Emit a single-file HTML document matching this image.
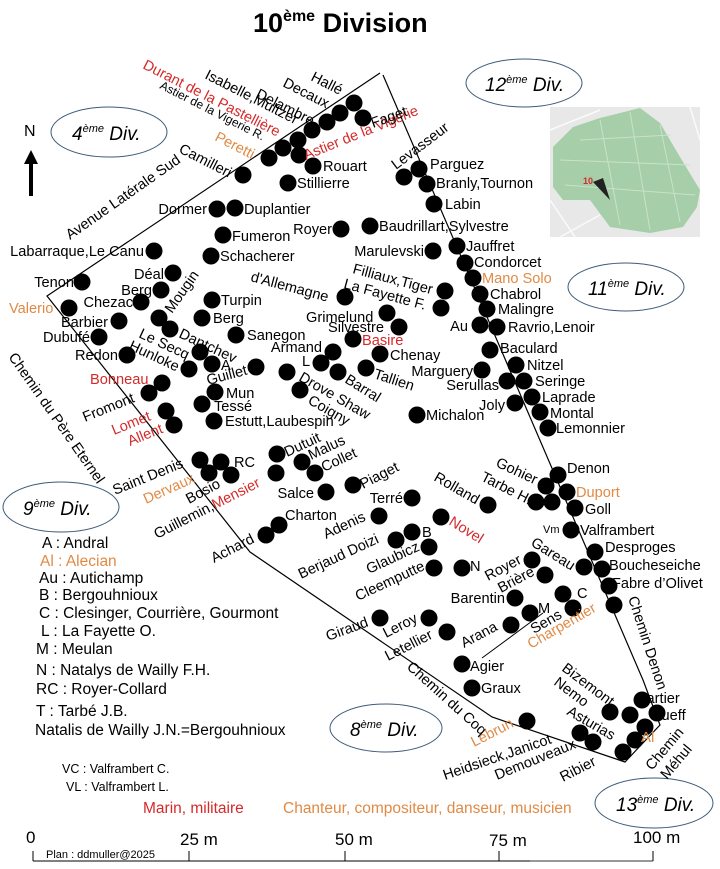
<!DOCTYPE html>
<html><head><meta charset="utf-8"><style>
html,body{margin:0;padding:0;background:#fff;}
svg{display:block;font-family:"Liberation Sans",Arial,sans-serif;}
.t{font-size:14.6px;fill:#000}
.r{font-size:14.6px;fill:#d42a2a}
.o{font-size:14.6px;fill:#e08a45}
.dv{font-size:19px;font-style:italic;fill:#000}
.lg{font-size:15.5px;fill:#000}
</style></head><body>
<svg width="720" height="869" viewBox="0 0 720 869" xmlns="http://www.w3.org/2000/svg">
<rect width="720" height="869" fill="#fff"/>
<text x="253" y="32" font-size="27" font-weight="bold">10<tspan font-size="16" dy="-11">ème</tspan><tspan dy="11"> Division</tspan></text>

<polyline points="380,73 47,296 250,552 492,717 625,762 660,725 643,680 383,75" fill="none" stroke="#000" stroke-width="1.2"/>
<line x1="482" y1="658" x2="543" y2="613" stroke="#000" stroke-width="1"/>

<g fill="none" stroke="#3d5a78" stroke-width="1">
<ellipse cx="109" cy="132" rx="58" ry="25"/>
<ellipse cx="524" cy="83" rx="58" ry="24"/>
<ellipse cx="626" cy="287" rx="58" ry="24"/>
<ellipse cx="61" cy="507" rx="58" ry="25"/>
<ellipse cx="386" cy="728" rx="56" ry="24"/>
<ellipse cx="654" cy="803" rx="59" ry="25"/>
</g>
<text class="dv" x="72" y="140">4<tspan font-size="11" dy="-8">ème</tspan><tspan dy="8"> Div.</tspan></text>
<text class="dv" x="485" y="91">12<tspan font-size="11" dy="-8">ème</tspan><tspan dy="8"> Div.</tspan></text>
<text class="dv" x="588" y="295">11<tspan font-size="11" dy="-8">ème</tspan><tspan dy="8"> Div.</tspan></text>
<text class="dv" x="23" y="515">9<tspan font-size="11" dy="-8">ème</tspan><tspan dy="8"> Div.</tspan></text>
<text class="dv" x="350" y="736">8<tspan font-size="11" dy="-8">ème</tspan><tspan dy="8"> Div.</tspan></text>
<text class="dv" x="616" y="811">13<tspan font-size="11" dy="-8">ème</tspan><tspan dy="8"> Div.</tspan></text>

<rect x="550" y="107" width="150" height="130" fill="#e8e8e8"/>
<g stroke="#fff" stroke-width="1.5" opacity="0.8">
<line x1="550" y1="130" x2="600" y2="110"/><line x1="560" y1="237" x2="600" y2="215"/><line x1="690" y1="107" x2="700" y2="140"/><line x1="550" y1="200" x2="575" y2="237"/>
</g>
<polygon points="553,147 573,127 600,118 640,108 660,123 680,157 700,190 697,207 683,227 650,233 610,227 590,200 563,200 553,187" fill="#a6cea8"/>
<g stroke="#c9e2c9" stroke-width="1" fill="none">
<line x1="600" y1="120" x2="620" y2="225"/><line x1="630" y1="112" x2="650" y2="230"/><line x1="660" y1="125" x2="680" y2="222"/>
<line x1="560" y1="160" x2="690" y2="165"/><line x1="565" y1="185" x2="695" y2="195"/><line x1="580" y1="140" x2="670" y2="135"/>
</g>
<polygon points="593,182 603,178 610,200" fill="#222"/>
<text x="583" y="184" font-size="9" font-weight="bold" fill="#d42a2a">10</text>

<text x="24" y="136" font-size="16">N</text>
<line x1="31" y1="196" x2="31" y2="162" stroke="#000" stroke-width="4"/>
<polygon points="24,164 31,150 38,164" fill="#000"/>

<g fill="#000">
<circle cx="354" cy="103" r="8.5"/><circle cx="363" cy="118" r="8.5"/><circle cx="340" cy="113" r="8.5"/>
<circle cx="327" cy="122" r="8.5"/><circle cx="312" cy="130" r="8.5"/><circle cx="298" cy="140" r="8.5"/>
<circle cx="283" cy="148" r="8.5"/><circle cx="269" cy="158" r="8.5"/><circle cx="299" cy="155" r="8.5"/>
<circle cx="313" cy="166" r="8.5"/><circle cx="288" cy="183" r="8.5"/><circle cx="243" cy="175" r="8.5"/>
<circle cx="217" cy="209" r="8.5"/><circle cx="235" cy="208" r="8.5"/><circle cx="341" cy="229" r="8.5"/>
<circle cx="223" cy="235" r="8.5"/><circle cx="211" cy="256" r="8.5"/><circle cx="154" cy="251" r="8.5"/>
<circle cx="173" cy="273" r="8.5"/><circle cx="161" cy="290" r="8.5"/><circle cx="82" cy="282" r="8.5"/>
<circle cx="141" cy="302" r="8.5"/><circle cx="69" cy="308" r="8.5"/><circle cx="119" cy="321" r="8.5"/>
<circle cx="159" cy="318" r="8.5"/><circle cx="99" cy="337" r="8.5"/><circle cx="170" cy="329" r="8.5"/>
<circle cx="212" cy="300" r="8.5"/><circle cx="202" cy="318" r="8.5"/><circle cx="236" cy="335" r="8.5"/>
<circle cx="127" cy="355" r="8.5"/><circle cx="200" cy="352" r="8.5"/><circle cx="212" cy="364" r="8.5"/>
<circle cx="189" cy="369" r="8.5"/><circle cx="256" cy="367" r="8.5"/><circle cx="345" cy="297" r="8.5"/>
<circle cx="333" cy="352" r="8.5"/><circle cx="321" cy="363" r="8.5"/><circle cx="338" cy="372" r="8.5"/>
<circle cx="287" cy="372" r="8.5"/><circle cx="300" cy="390" r="8.5"/><circle cx="162" cy="383" r="8.5"/>
<circle cx="149" cy="393" r="8.5"/><circle cx="215" cy="392" r="8.5"/><circle cx="202" cy="404" r="8.5"/>
<circle cx="166" cy="411" r="8.5"/><circle cx="174" cy="425" r="8.5"/><circle cx="214" cy="421" r="8.5"/>
<circle cx="353" cy="339" r="8.5"/>
<circle cx="404" cy="177" r="8.5"/><circle cx="419" cy="169" r="8.5"/><circle cx="427" cy="184" r="8.5"/>
<circle cx="434" cy="204" r="8.5"/><circle cx="370" cy="226" r="8.5"/><circle cx="433" cy="251" r="8.5"/>
<circle cx="457" cy="246" r="8.5"/><circle cx="465" cy="263" r="8.5"/><circle cx="473" cy="278" r="8.5"/>
<circle cx="480" cy="294" r="8.5"/><circle cx="487" cy="309" r="8.5"/><circle cx="480" cy="325" r="8.5"/>
<circle cx="497" cy="327" r="8.5"/><circle cx="445" cy="291" r="8.5"/><circle cx="441" cy="308" r="8.5"/>
<circle cx="387" cy="313" r="8.5"/><circle cx="399" cy="327" r="8.5"/><circle cx="380" cy="354" r="8.5"/>
<circle cx="366" cy="368" r="8.5"/><circle cx="490" cy="350" r="8.5"/><circle cx="516" cy="365" r="8.5"/>
<circle cx="482" cy="370" r="8.5"/><circle cx="507" cy="381" r="8.5"/><circle cx="524" cy="381" r="8.5"/>
<circle cx="532" cy="397" r="8.5"/><circle cx="515" cy="403" r="8.5"/><circle cx="540" cy="412" r="8.5"/>
<circle cx="548" cy="428" r="8.5"/><circle cx="417" cy="415" r="8.5"/>
<circle cx="200" cy="460" r="8.5"/><circle cx="221" cy="462" r="8.5"/><circle cx="209" cy="473" r="8.5"/>
<circle cx="231" cy="475" r="8.5"/><circle cx="277" cy="454" r="8.5"/><circle cx="302" cy="462" r="8.5"/>
<circle cx="315" cy="473" r="8.5"/><circle cx="276" cy="473" r="8.5"/><circle cx="326" cy="492" r="8.5"/>
<circle cx="353" cy="485" r="8.5"/><circle cx="412" cy="498" r="8.5"/><circle cx="279" cy="525" r="8.5"/>
<circle cx="266" cy="535" r="8.5"/><circle cx="379" cy="516" r="8.5"/><circle cx="441" cy="517" r="8.5"/>
<circle cx="396" cy="540" r="8.5"/><circle cx="412" cy="532" r="8.5"/><circle cx="429" cy="547" r="8.5"/>
<circle cx="434" cy="568" r="8.5"/><circle cx="462" cy="568" r="8.5"/><circle cx="488" cy="505" r="8.5"/>
<circle cx="546" cy="486" r="8.5"/><circle cx="558" cy="475" r="8.5"/><circle cx="567" cy="492" r="8.5"/>
<circle cx="536" cy="502" r="8.5"/><circle cx="552" cy="502" r="8.5"/><circle cx="575" cy="508" r="8.5"/>
<circle cx="571" cy="530" r="8.5"/><circle cx="532" cy="560" r="8.5"/><circle cx="545" cy="575" r="8.5"/>
<circle cx="584" cy="567" r="8.5"/><circle cx="595" cy="552" r="8.5"/><circle cx="602" cy="569" r="8.5"/>
<circle cx="609" cy="586" r="8.5"/><circle cx="614" cy="605" r="8.5"/><circle cx="515" cy="598" r="8.5"/>
<circle cx="530" cy="613" r="8.5"/><circle cx="563" cy="594" r="8.5"/><circle cx="573" cy="608" r="8.5"/>
<circle cx="511" cy="625" r="8.5"/><circle cx="380" cy="618" r="8.5"/><circle cx="429" cy="618" r="8.5"/>
<circle cx="447" cy="632" r="8.5"/><circle cx="462" cy="664" r="8.5"/><circle cx="472" cy="688" r="8.5"/>
<circle cx="527" cy="721" r="8.5"/>
<circle cx="642" cy="700" r="8.5"/><circle cx="657" cy="713" r="8.5"/><circle cx="630" cy="715" r="8.5"/>
<circle cx="610" cy="712" r="8.5"/><circle cx="645" cy="727" r="8.5"/><circle cx="635" cy="740" r="8.5"/>
<circle cx="623" cy="752" r="8.5"/><circle cx="593" cy="742" r="8.5"/><circle cx="580" cy="733" r="8.5"/>
</g>

<text class="t" transform="translate(310,80) rotate(27)">Hallé</text>
<text class="t" transform="translate(282,86) rotate(27)">Decaux</text>
<text class="t" transform="translate(255,97) rotate(27)">Delambre</text>
<text class="t" transform="translate(204,78) rotate(27)">Isabelle,Multzer</text>
<text class="r" transform="translate(142,68) rotate(27)">Durant de la Pastellière</text>
<text class="t" transform="translate(159,88) rotate(27)" style="font-size:12px">Astier de la Vigerie R.</text>
<text class="o" transform="translate(214,140) rotate(27)">Peretti</text>
<text class="t" transform="translate(178,152) rotate(27)">Camilleri</text>
<text class="r" transform="translate(306,160) rotate(-22)">Astier de la Vigerie</text>
<text class="t" transform="translate(373,128) rotate(-20)">Faget</text>
<text class="t" transform="translate(396,170) rotate(-37)">Levasseur</text>
<text class="t" transform="translate(70,240) rotate(-35)">Avenue Latérale Sud</text>
<text class="t" transform="translate(8,357) rotate(55)">Chemin du Père Eternel</text>
<text class="t" transform="translate(172,314) rotate(-55)">Mougin</text>
<text class="t" transform="translate(138,337) rotate(25)">Le Secq</text>
<text class="t" transform="translate(128,349) rotate(25)">Hunloke</text>
<text class="t" transform="translate(178,337) rotate(25)">Dantchev</text>
<text class="t" transform="translate(250,281) rotate(15)">d'Allemagne</text>
<text class="t" transform="translate(352,273) rotate(15)">Filliaux,Tiger</text>
<text class="t" transform="translate(343,288) rotate(15)">La Fayette F.</text>
<text class="t" transform="translate(298,380) rotate(30)">Drove Shaw</text>
<text class="t" transform="translate(307,403) rotate(30)">Coigny</text>
<text class="t" transform="translate(344,382) rotate(32)">Barral</text>
<text class="t" transform="translate(373,378) rotate(18)">Tallien</text>
<text class="t" transform="translate(208,385) rotate(-15)">Guillet</text>
<text class="t" transform="translate(85,422) rotate(-22)">Fromont</text>
<text class="r" transform="translate(114,435) rotate(-22)">Lomet</text>
<text class="r" transform="translate(130,446) rotate(-22)">Allent</text>
<text class="t" transform="translate(115,495) rotate(-22)">Saint Denis</text>
<text class="o" transform="translate(146,504) rotate(-24)">Dervaux</text>
<text class="t" transform="translate(189,504) rotate(-28)">Bosio</text>
<text class="t" transform="translate(157,539) rotate(-27)">Guillemin,<tspan fill="#d42a2a">Mensier</tspan></text>
<text class="t" transform="translate(214,563) rotate(-27)">Achard</text>
<text class="t" transform="translate(287,457) rotate(-25)">Dutuit</text>
<text class="t" transform="translate(311,460) rotate(-25)">Malus</text>
<text class="t" transform="translate(324,472) rotate(-25)">Collet</text>
<text class="t" transform="translate(363,489) rotate(-27)">Piaget</text>
<text class="t" transform="translate(433,480) rotate(30)">Rolland</text>
<text class="t" transform="translate(495,466) rotate(25)">Gohier</text>
<text class="t" transform="translate(480,480) rotate(27)">Tarbe H.</text>
<text class="r" transform="translate(448,524) rotate(32)">Novel</text>
<text class="t" transform="translate(326,539) rotate(-25)">Adenis</text>
<text class="t" transform="translate(301,579) rotate(-25)">Berjaud Doizi</text>
<text class="t" transform="translate(369,574) rotate(-25)">Glaubicz</text>
<text class="t" transform="translate(358,601) rotate(-25)">Cleemputte</text>
<text class="t" transform="translate(488,581) rotate(-28)">Royer</text>
<text class="t" transform="translate(501,593) rotate(-28)">Brière</text>
<text class="t" transform="translate(530,545) rotate(32)">Gareau</text>
<text class="t" transform="translate(534,634) rotate(-30)">Sens</text>
<text class="o" transform="translate(531,649) rotate(-30)">Charpentier</text>
<text class="t" transform="translate(464,648) rotate(-28)">Arana</text>
<text class="t" transform="translate(328,641) rotate(-20)">Giraud</text>
<text class="t" transform="translate(386,638) rotate(-27)">Leroy</text>
<text class="t" transform="translate(388,661) rotate(-27)">Letellier</text>
<text class="t" transform="translate(406,668) rotate(42)">Chemin du Coq</text>
<text class="t" transform="translate(628,598) rotate(72)">Chemin Denon</text>
<text class="t" transform="translate(561,670) rotate(37)">Bizemont</text>
<text class="t" transform="translate(553,684) rotate(37)">Nemo</text>
<text class="t" transform="translate(566,714) rotate(30)">Asturias</text>
<text class="t" transform="translate(445,780) rotate(-19)">Heidsieck,Janicot</text>
<text class="t" transform="translate(497,780) rotate(-22)">Demouveaux</text>
<text class="t" transform="translate(563,782) rotate(-27)">Ribier</text>
<text class="o" transform="translate(474,747) rotate(-27)">Lebrun</text>
<text class="t" transform="translate(652,771) rotate(-50)">Chemin</text>
<text class="t" transform="translate(667,780) rotate(-50)">Méhul</text>
<text class="o" x="641" y="742" style="font-size:15px">Al</text>

<g class="t">
<text x="323" y="171">Rouart</text>
<text x="297" y="188">Stillierre</text>
<text x="244" y="214">Duplantier</text>
<text x="207" y="214" text-anchor="end">Dormer</text>
<text x="232" y="241">Fumeron</text>
<text x="220" y="261">Schacherer</text>
<text x="332" y="234" text-anchor="end">Royer</text>
<text x="144" y="256" text-anchor="end">Labarraque,Le Canu</text>
<text x="164" y="279" text-anchor="end">Déal</text>
<text x="152" y="295" text-anchor="end">Berg</text>
<text x="74" y="287" text-anchor="end">Tenon</text>
<text x="133" y="307" text-anchor="end">Chezac</text>
<text x="108" y="327" text-anchor="end">Barbier</text>
<text x="90" y="342" text-anchor="end">Dubufé</text>
<text x="118" y="360" text-anchor="end">Redon</text>
<text x="221" y="305">Turpin</text>
<text x="213" y="323">Berg</text>
<text x="247" y="340">Sanegon</text>
<text x="322" y="352" text-anchor="end">Armand</text>
<text x="302" y="366">L</text>
<text x="221" y="370">A</text>
<text x="226" y="398">Mun</text>
<text x="214" y="411">Tessé</text>
<text x="225" y="426">Estutt,Laubespin</text>
<text x="306" y="322">Grimelund</text>
<text x="328" y="332">Silvestre</text>
<text x="390" y="360">Chenay</text>
<text x="473" y="376" text-anchor="end">Marguery</text>
<text x="499" y="390" text-anchor="end">Serullas</text>
<text x="505" y="410" text-anchor="end">Joly</text>
<text x="426" y="420">Michalon</text>
<text x="500" y="353">Baculard</text>
<text x="527" y="370">Nitzel</text>
<text x="535" y="386">Seringe</text>
<text x="542" y="402">Laprade</text>
<text x="550" y="418">Montal</text>
<text x="556" y="433">Lemonnier</text>
<text x="468" y="331" text-anchor="end">Au</text>
<text x="508" y="332">Ravrio,Lenoir</text>
<text x="498" y="314">Malingre</text>
<text x="490" y="299">Chabrol</text>
<text x="474" y="267">Condorcet</text>
<text x="466" y="251">Jauffret</text>
<text x="424" y="256" text-anchor="end">Marulevski</text>
<text x="379" y="231">Baudrillart,Sylvestre</text>
<text x="445" y="209">Labin</text>
<text x="436" y="188">Branly,Tournon</text>
<text x="430" y="169">Parguez</text>
<text x="234" y="467">RC</text>
<text x="314" y="498" text-anchor="end">Salce</text>
<text x="403" y="503" text-anchor="end">Terré</text>
<text x="285" y="520">Charton</text>
<text x="422" y="537">B</text>
<text x="470" y="571">N</text>
<text x="567" y="473">Denon</text>
<text x="585" y="514">Goll</text>
<text x="543" y="533" style="font-size:11px">Vm</text>
<text x="580" y="535">Valframbert</text>
<text x="605" y="552">Desproges</text>
<text x="609" y="570">Boucheseiche</text>
<text x="612" y="588">Fabre d’Olivet</text>
<text x="505" y="603" text-anchor="end">Barentin</text>
<text x="538" y="613">M</text>
<text x="577" y="598">C</text>
<text x="470" y="671">Agier</text>
<text x="481" y="693">Graux</text>
<text x="636" y="703">Cartier</text>
<text x="651" y="720">Rueff</text>
</g>
<text class="o" x="9" y="313">Valerio</text>
<text class="r" x="90" y="384">Bonneau</text>
<text class="r" x="362" y="345">Basire</text>
<text class="o" x="482" y="283">Mano Solo</text>
<text class="o" x="576" y="497">Duport</text>

<g class="lg">
<text x="42" y="548">A : Andral</text>
<text x="40" y="566" fill="#e08a45">Al : Alecian</text>
<text x="39" y="583">Au : Autichamp</text>
<text x="39" y="600">B : Bergouhnioux</text>
<text x="39" y="618">C : Clesinger, Courrière, Gourmont</text>
<text x="41" y="636">L : La Fayette O.</text>
<text x="36" y="654">M : Meulan</text>
<text x="36" y="675">N : Natalys de Wailly F.H.</text>
<text x="36" y="694">RC : Royer-Collard</text>
<text x="36" y="716">T : Tarbé J.B.</text>
<text x="35" y="735">Natalis de Wailly J.N.=Bergouhnioux</text>
</g>
<text x="62" y="773" font-size="12.5">VC : Valframbert C.</text>
<text x="66" y="791" font-size="12.5">VL : Valframbert L.</text>
<text x="143" y="813" font-size="15.5" fill="#d42a2a">Marin, militaire</text>
<text x="283" y="813" font-size="15.5" fill="#e08a45">Chanteur, compositeur, danseur, musicien</text>

<line x1="33" y1="861" x2="653" y2="861" stroke="#000" stroke-width="1"/>
<line x1="530" y1="861" x2="653" y2="861" stroke="#777" stroke-width="1.5"/>
<g stroke="#000" stroke-width="1">
<line x1="33" y1="851" x2="33" y2="861"/><line x1="189" y1="851" x2="189" y2="861"/>
<line x1="345" y1="851" x2="345" y2="861"/><line x1="499" y1="851" x2="499" y2="861"/>
<line x1="653" y1="851" x2="653" y2="861"/>
</g>
<text x="26" y="843" font-size="17">0</text>
<text x="180" y="845" font-size="17">25 m</text>
<text x="335" y="845" font-size="17">50 m</text>
<text x="489" y="846" font-size="17">75 m</text>
<text x="633" y="843" font-size="17">100 m</text>
<text x="46" y="858" font-size="11">Plan : ddmuller@2025</text>
</svg>
</body></html>
